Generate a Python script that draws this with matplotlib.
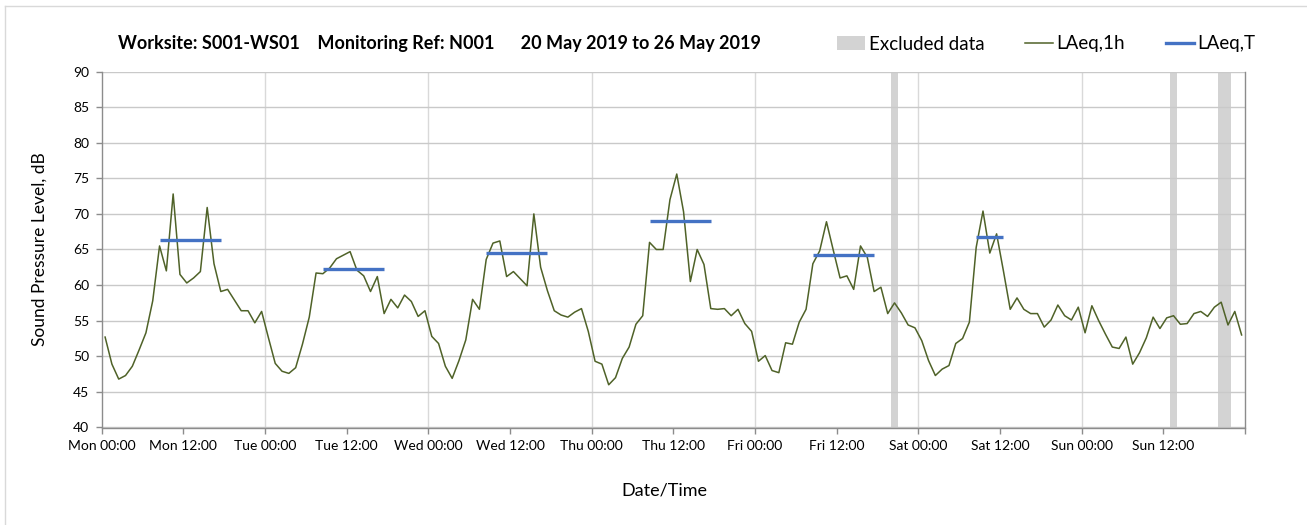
import numpy as np
import matplotlib
matplotlib.use("Agg")
import matplotlib.pyplot as plt
from matplotlib.lines import Line2D
from matplotlib.patches import Patch

plt.rcParams['font.family'] = ['Lato', 'DejaVu Sans']

# Hourly LAeq,1h values, Mon 00:00 .. Sun 23:00 (168 hours)
laeq_1h = [
    52.7, 48.9, 46.8, 47.3, 48.6, 50.9, 53.3, 57.8, 65.5, 62.0, 72.8, 61.5,
    60.3, 61.0, 61.9, 70.9, 63.0, 59.1, 59.4, 57.9, 56.4, 56.4, 54.7, 56.3,
    52.6, 49.0, 47.9, 47.6, 48.4, 51.7, 55.5, 61.7, 61.6, 62.4, 63.7, 64.2,
    64.7, 62.1, 61.3, 59.1, 61.2, 56.0, 58.0, 56.8, 58.6, 57.7, 55.6, 56.4,
    52.8, 51.8, 48.6, 46.9, 49.4, 52.3, 58.0, 56.6, 63.6, 65.9, 66.2, 61.2,
    61.9, 60.9, 59.9, 70.0, 62.5, 59.2, 56.4, 55.8, 55.5, 56.2, 56.7, 53.5,
    49.3, 48.9, 46.0, 47.0, 49.7, 51.3, 54.5, 55.7, 66.0, 65.0, 65.0, 72.0,
    75.6, 70.3, 60.5, 65.0, 62.9, 56.7, 56.6, 56.7, 55.7, 56.6, 54.6, 53.5,
    49.3, 50.1, 48.0, 47.7, 51.9, 51.7, 54.8, 56.6, 63.0, 64.8, 68.9, 64.9,
    61.0, 61.3, 59.4, 65.5, 63.9, 59.1, 59.7, 56.0, 57.5, 56.1, 54.4, 54.0,
    52.2, 49.4, 47.3, 48.2, 48.7, 51.8, 52.5, 54.8, 65.3, 70.4, 64.5, 67.2,
    62.0, 56.6, 58.2, 56.6, 56.0, 56.0, 54.1, 55.1, 57.2, 55.7, 55.1, 56.9,
    53.3, 57.1, 55.0, 53.1, 51.3, 51.1, 52.7, 48.9, 50.5, 52.6, 55.5, 53.9,
    55.4, 55.7, 54.5, 54.6, 56.0, 56.3, 55.6, 56.9, 57.6, 54.4, 56.3, 53.0,
]

# LAeq,T daytime periods (hour index of first and last hour) and values
period_start = [8, 32, 56, 80, 104, 128]
period_end = [17, 41, 65, 89, 113, 132]
laeq_t = [66.4, 62.2, 64.5, 69.0, 64.2, 66.8]

# Excluded data intervals (hours from Mon 00:00)
excl_start = [116, 157, 164]
excl_end = [117, 158, 166]

tick_labels = ["Mon 00:00", "Mon 12:00", "Tue 00:00", "Tue 12:00", "Wed 00:00",
               "Wed 12:00", "Thu 00:00", "Thu 12:00", "Fri 00:00", "Fri 12:00",
               "Sat 00:00", "Sat 12:00", "Sun 00:00", "Sun 12:00"]

title = "Worksite: S001-WS01    Monitoring Ref: N001      20 May 2019 to 26 May 2019"

W, H = 1307, 525
fig = plt.figure(figsize=(W / 100, H / 100), dpi=100)
ax = fig.add_axes([101.7 / W, 1 - 427.5 / H, (1245 - 101.7) / W, (427.5 - 71.5) / H])

green = "#4f6228"
blue = "#4472c4"
grey_band = "#d3d3d3"

for s, e in zip(excl_start, excl_end):
    ax.axvspan(s, e, color=grey_band, lw=0, zorder=1)

hours = np.arange(len(laeq_1h)) + 0.5
ax.plot(hours, laeq_1h, color=green, lw=1.1, zorder=3)

for s, e, v in zip(period_start, period_end, laeq_t):
    ax.plot([s + 0.5, e + 0.5], [v, v], color=blue, lw=2.4, zorder=4,
            solid_capstyle='butt')

ax.set_xlim(0, 168)
ax.set_ylim(40, 90)
ax.set_yticks(np.arange(40, 91, 5))
ax.set_xticks(np.arange(0, 168, 12))
ax.set_xticklabels(tick_labels)
ax.set_xticks([168], minor=True)

ax.grid(axis='y', color="#c9c9c9", lw=1.0, zorder=0)
for d in range(24, 168, 24):
    ax.axvline(d, color="#d9d9d9", lw=1.0, zorder=0)

for side in ['left', 'bottom', 'right']:
    ax.spines[side].set_color("#8c8c8c")
    ax.spines[side].set_linewidth(1.0)
ax.spines['top'].set_visible(False)

ax.tick_params(axis='both', which='both', colors="#8c8c8c", length=4, width=1.0,
               labelsize=10, labelcolor="#000000", direction='out')
ax.tick_params(axis='x', pad=5)
ax.tick_params(axis='y', pad=5)

ax.set_ylabel("Sound Pressure Level, dB", fontsize=12.5)
ax.yaxis.set_label_coords((40 - 101.7) / 1143.3, 0.5)
ax.yaxis.label.set_va('center')
ax.set_xlabel("Date/Time", fontsize=13)
ax.xaxis.set_label_coords((664 - 101.7) / 1143.3, -(490 - 427.5) / 356)
ax.xaxis.label.set_va('center')

fig.text(118 / W, 1 - 44 / H, title, fontsize=13, fontweight='bold',
         ha='left', va='center')

handles = [Patch(facecolor=grey_band, edgecolor='none', label="Excluded data"),
           Line2D([], [], color=green, lw=1.1, label="LAeq,1h"),
           Line2D([], [], color=blue, lw=2.4, label="LAeq,T")]
fig.legend(handles=handles, loc='center left', bbox_to_anchor=(837 / W, 1 - 44 / H),
           ncol=3, frameon=False, fontsize=13.5, handlelength=1.5, handletextpad=0.2,
           columnspacing=2.15, handleheight=0.7, borderpad=0, borderaxespad=0)

# outer chart border
fig.add_artist(Line2D([4.5 / W, 4.5 / W], [0, 1 - 6 / H], color="#d9d9d9", lw=1.0,
                      transform=fig.transFigure))
fig.add_artist(Line2D([4.5 / W, 1], [1 - 6 / H, 1 - 6 / H], color="#d9d9d9", lw=1.0,
                      transform=fig.transFigure))

fig.savefig("out.png", dpi=100)
